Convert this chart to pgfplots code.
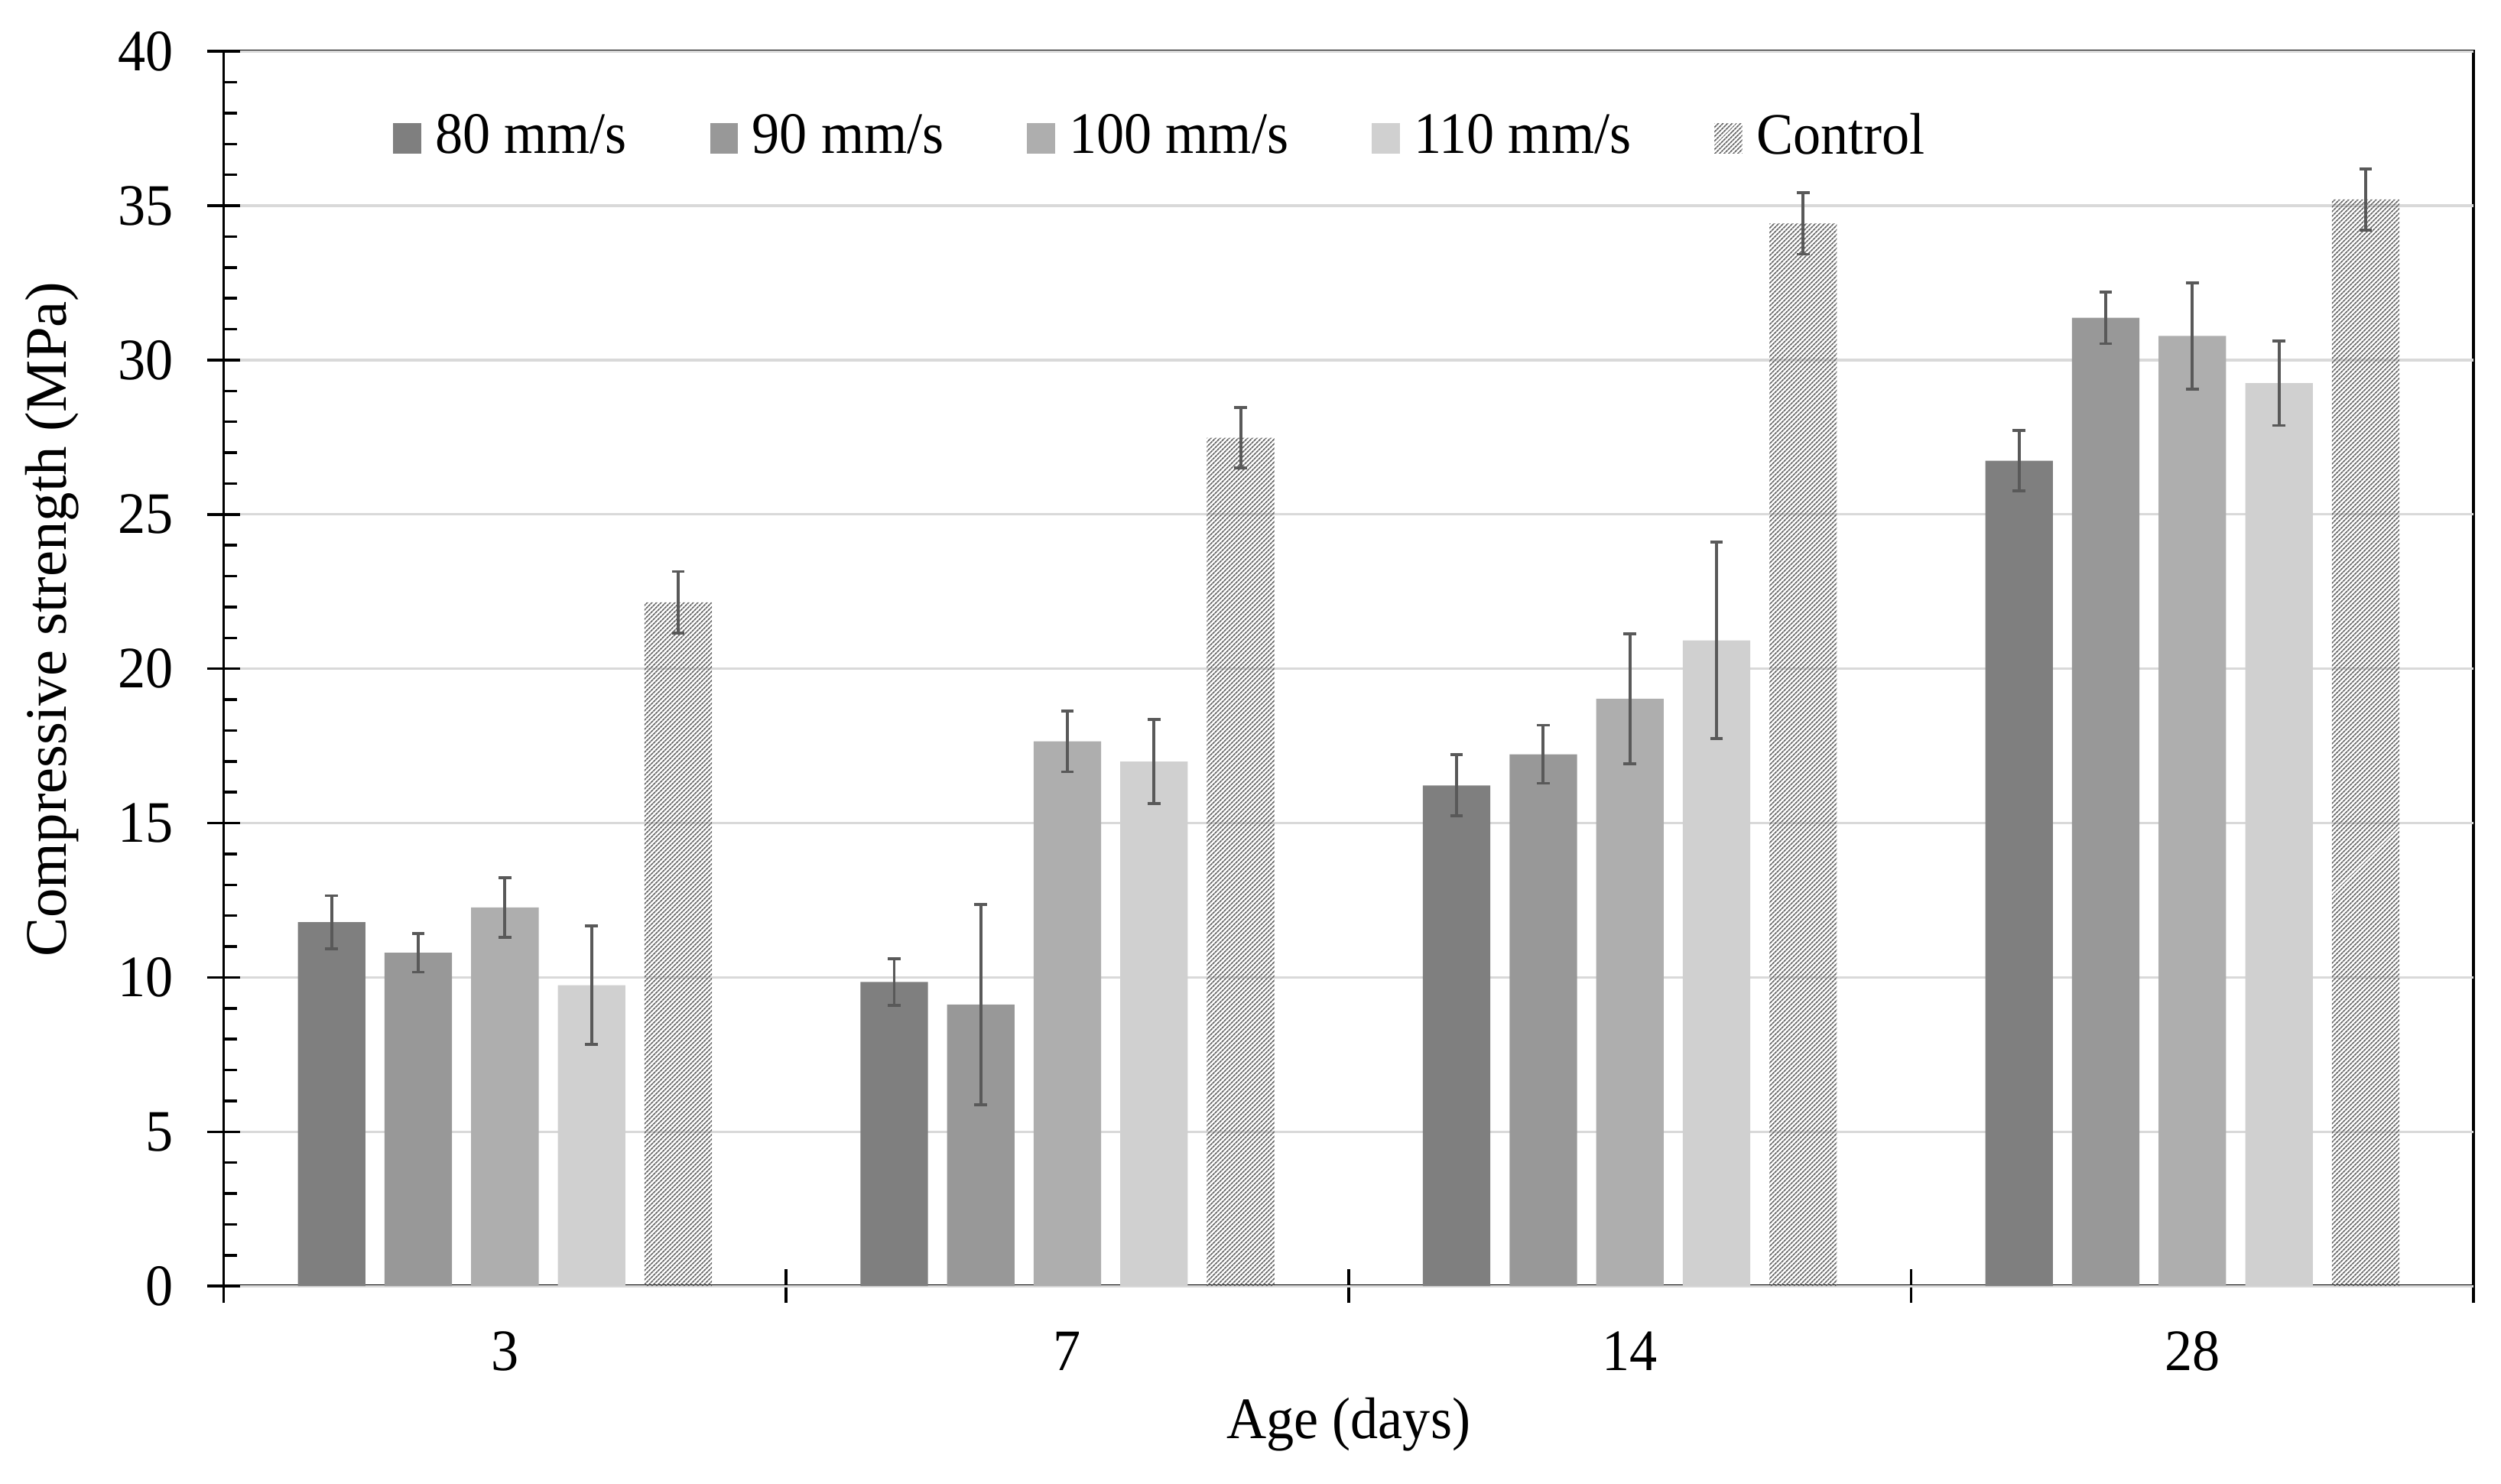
\documentclass[border=0pt]{standalone}
\usepackage{fontspec}
\setmainfont{Liberation Serif}[FakeStretch=0.94]
\newfontfamily\ylabfont{Liberation Serif}
\usepackage{pgfplots}
\pgfplotsset{compat=1.18}
\usepackage{pgfplotstable}
\usetikzlibrary{patterns.meta}
\definecolor{cA}{HTML}{7F7F7F}
\definecolor{cB}{HTML}{989898}
\definecolor{cC}{HTML}{AEAEAE}
\definecolor{cD}{HTML}{D0D0D0}
\definecolor{hatchc}{HTML}{6E6E6E}
\definecolor{errc}{HTML}{595959}
\definecolor{gridc}{HTML}{D9D9D9}

\pgfplotstableread{
x y e
-0.308 11.79 0.86
0.692 9.85 0.75
1.692 16.22 0.99
2.692 26.74 0.97
}\sA
\pgfplotstableread{
x y e
-0.154 10.80 0.63
0.846 9.12 3.24
1.846 17.23 0.94
2.846 31.37 0.84
}\sB
\pgfplotstableread{
x y e
0 12.27 0.97
1 17.65 0.99
2 19.03 2.11
3 30.78 1.72
}\sC
\pgfplotstableread{
x y e
0.154 9.75 1.92
1.154 16.99 1.36
2.154 20.92 3.19
3.154 29.25 1.37
}\sD
\pgfplotstableread{
x y e
0.308 22.15 1.00
1.308 27.48 0.98
2.308 34.43 1.00
3.308 35.20 1.00
}\sE

\pgfplotsset{
  layers/mylayers/.define layer set={axis background,axis grid,main,axis ticks,axis lines,axis tick labels,axis descriptions,axis foreground}{},
  mybar/.style={ybar, bar width=0.12, bar shift=0pt, draw=none,
    error bars/y dir=both, error bars/y explicit,
    error bars/error bar style={errc, line width=0.6pt},
    error bars/error mark options={rotate=90, errc, mark size=1.3pt, line width=0.6pt}},
}

\begin{document}
\fontsize{12}{14.4}\selectfont
\begin{tikzpicture}
\begin{axis}[
  name=ax,
  set layers=mylayers,
  scale only axis,
  width=459.7pt, height=252.3pt,
  xmin=-0.5, xmax=3.5, ymin=0, ymax=40,
  /pgf/number format/assume math mode=true,
  xtick={0,1,2,3}, xticklabels={3,7,14,28},
  ytick={0,5,...,40}, minor y tick num=4,
  xtick pos=bottom, ytick pos=left,
  tick align=inside, major tick length=2.4pt, minor tick length=2.7pt,
  extra x ticks={-0.5,0.5,1.5,2.5,3.5}, extra x tick labels={},
  extra x tick style={tick align=center, major tick length=6.9pt},
  extra y ticks={0,5,...,40}, extra y tick labels={},
  extra y tick style={tick align=center, major tick length=6.8pt},
  ymajorgrids, grid style={gridc, line width=0.5pt},
  axis line style={line width=0.55pt, black},
  tick style={black, line width=0.55pt},
  yticklabel style={xshift=-6.1pt},
  xticklabel style={yshift=-5.1pt},
  ylabel={\ylabfont Compressive strength (MPa)},
  ylabel style={at={(axis description cs:-0.0762,0.540)}, anchor=center},
  xlabel={Age (days)},
  xlabel style={at={(axis description cs:0.5,-0.1123)}, anchor=center},
  legend columns=5,
  legend image code/.code={\fill[#1] (0pt,-3.1pt) rectangle (5.7pt,3.1pt);},
  legend style={at={(axis description cs:0.0749,0.9295)}, anchor=west,
    draw=none, fill=none, inner sep=0pt, nodes={inner sep=0pt},
    /tikz/every odd column/.append style={column sep=2.9pt},
    /tikz/every even column/.append style={column sep=17pt}},
]
\addplot[mybar, fill=cA] table[x=x, y=y, y error=e] {\sA};
\addlegendentry{80 mm/s}
\addplot[mybar, fill=cB] table[x=x, y=y, y error=e] {\sB};
\addlegendentry{90 mm/s}
\addplot[mybar, fill=cC] table[x=x, y=y, y error=e] {\sC};
\addlegendentry{100 mm/s}
\addplot[mybar, fill=cD] table[x=x, y=y, y error=e] {\sD};
\addlegendentry{110 mm/s}
\addplot[mybar, pattern={Lines[angle=45, distance=0.62pt, line width=0.3pt]}, pattern color=hatchc] table[x=x, y=y, y error=e] {\sE};
\addlegendentry{Control}
\end{axis}
\pgfresetboundingbox
\path ([xshift=-45.7pt,yshift=-40.4pt]ax.south west) rectangle ([xshift=5.6pt,yshift=10.5pt]ax.north east);
\end{tikzpicture}
\end{document}
